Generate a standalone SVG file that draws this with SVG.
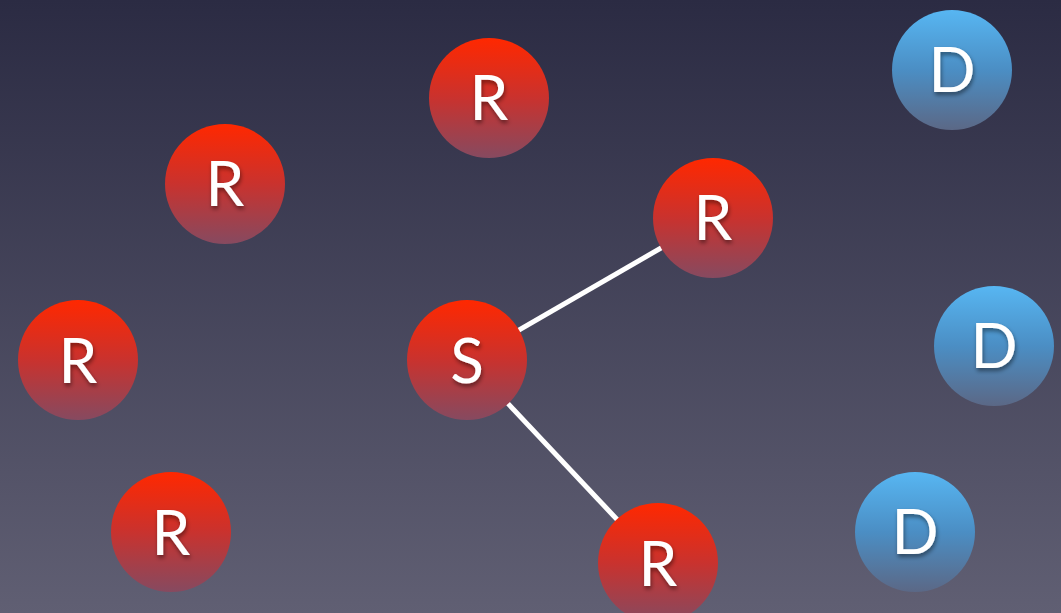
<svg xmlns="http://www.w3.org/2000/svg" width="1061" height="613" viewBox="0 0 1061 613">
  <defs>
    <linearGradient id="bg" x1="0" y1="0" x2="0" y2="1">
      <stop offset="0" stop-color="#2b2b43"/>
      <stop offset="1" stop-color="#605f73"/>
    </linearGradient>
    <linearGradient id="red" x1="0" y1="0" x2="0" y2="1">
      <stop offset="0" stop-color="#ff2800"/>
      <stop offset="0.5" stop-color="#c9322e"/>
      <stop offset="1" stop-color="#864a60"/>
    </linearGradient>
    <linearGradient id="blue" x1="0" y1="0" x2="0" y2="1">
      <stop offset="0" stop-color="#57b6f2"/>
      <stop offset="0.5" stop-color="#4b8ec4"/>
      <stop offset="1" stop-color="#5b6886"/>
    </linearGradient>
    <filter id="ts" x="-50%" y="-50%" width="200%" height="200%">
      <feDropShadow dx="1" dy="3" stdDeviation="2" flood-color="#000" flood-opacity="0.45"/>
    </filter>
  </defs>
  <style>
    .r { fill: url(#red); }
    .d { fill: url(#blue); }
    .t { fill: #ffffff; font-family: Lato, "Open Sans", sans-serif; font-size: 62px; text-anchor: middle; filter: url(#ts); }
    .e { stroke: #ffffff; stroke-width: 5; fill: none; }
  </style>
  <rect width="1061" height="613" fill="url(#bg)"/>
  <g id="connectors">
    <line class="e" x1="467" y1="360" x2="713" y2="218"/>
    <line class="e" x1="467" y1="360" x2="658" y2="563"/>
  </g>
  <g id="r1"><circle class="r" cx="489" cy="98" r="60"/><text class="t" x="489" y="120">R</text></g>
  <g id="r2"><circle class="r" cx="225" cy="184" r="60"/><text class="t" x="225" y="206">R</text></g>
  <g id="r3"><circle class="r" cx="713" cy="218" r="60"/><text class="t" x="713" y="240">R</text></g>
  <g id="s"><circle class="r" cx="467" cy="360" r="60"/><text class="t" x="467" y="383">S</text></g>
  <g id="r4"><circle class="r" cx="78" cy="360" r="60"/><text class="t" x="78" y="383">R</text></g>
  <g id="r5"><circle class="r" cx="171" cy="532" r="60"/><text class="t" x="171" y="555">R</text></g>
  <g id="r6"><circle class="r" cx="658" cy="563" r="60"/><text class="t" x="658" y="586">R</text></g>
  <g id="d1"><circle class="d" cx="952" cy="70" r="60"/><text class="t" x="952" y="92">D</text></g>
  <g id="d2"><circle class="d" cx="994" cy="346" r="60"/><text class="t" x="994" y="368">D</text></g>
  <g id="d3"><circle class="d" cx="915" cy="532" r="60"/><text class="t" x="915" y="554">D</text></g>
</svg>
